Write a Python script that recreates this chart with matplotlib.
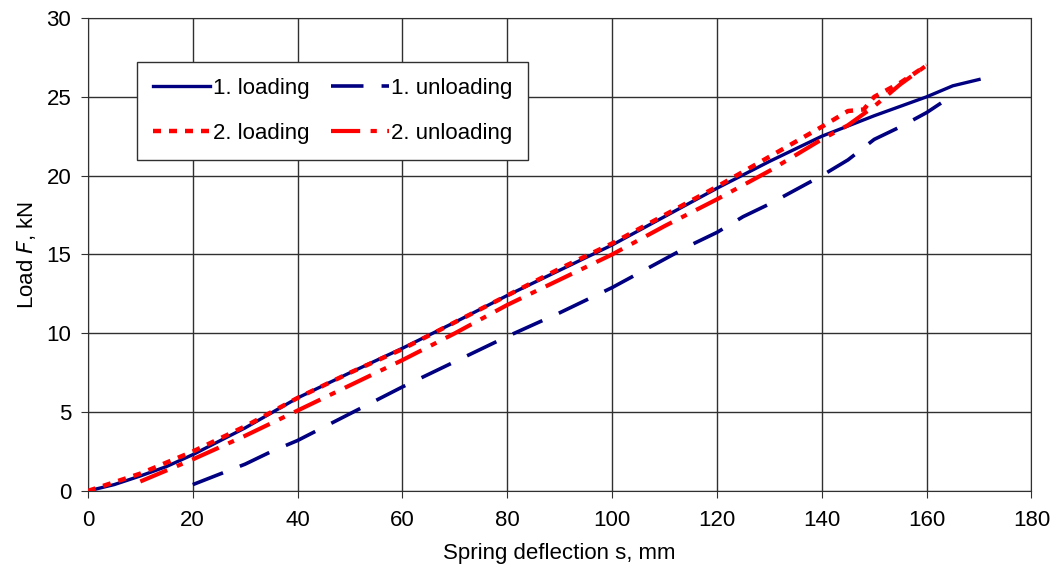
import matplotlib
matplotlib.use("Agg")
import matplotlib.pyplot as plt

plt.rcParams["font.family"] = ["Liberation Sans", "DejaVu Sans"]

# 1. loading
load1_s = [0, 5, 10, 15, 20, 30, 40, 50, 60, 70, 80, 90, 100, 110, 120, 130, 140, 150, 160, 165, 170]
load1_f = [0, 0.4, 0.95, 1.55, 2.3, 4.0, 5.9, 7.5, 9.05, 10.7, 12.4, 14.0, 15.6, 17.4, 19.2, 20.9, 22.5, 23.8, 25.0, 25.7, 26.1]
# 1. unloading
unload1_s = [20, 25, 30, 35, 40, 50, 60, 70, 80, 90, 100, 110, 115, 120, 125, 130, 135, 140, 145, 150, 155, 160, 165]
unload1_f = [0.4, 1.05, 1.7, 2.5, 3.2, 4.9, 6.6, 8.2, 9.8, 11.3, 12.9, 14.7, 15.6, 16.4, 17.4, 18.2, 19.1, 20.0, 21.0, 22.3, 23.1, 24.0, 25.1]
# 2. loading
load2_s = [0, 10, 20, 30, 40, 50, 60, 70, 80, 90, 100, 110, 120, 130, 140, 145, 148, 150, 155, 160]
load2_f = [0, 1.1, 2.5, 4.1, 5.9, 7.5, 9.0, 10.7, 12.4, 14.1, 15.7, 17.5, 19.3, 21.2, 23.1, 24.1, 24.2, 25.0, 25.9, 27.0]
# 2. unloading
unload2_s = [10, 15, 20, 30, 40, 50, 60, 70, 80, 90, 100, 110, 120, 130, 140, 145, 150, 155, 160]
unload2_f = [0.6, 1.3, 2.0, 3.5, 5.1, 6.7, 8.3, 10.0, 11.8, 13.4, 15.0, 16.8, 18.5, 20.3, 22.3, 23.2, 24.4, 25.8, 27.0]

fig = plt.figure(figsize=(10.59, 5.81), dpi=100)
ax = fig.add_axes([0.083, 0.155, 0.891, 0.814])

navy = "#000080"
red = "#ff0000"
l1, = ax.plot(load1_s, load1_f, color=navy, lw=2.4, zorder=4)
u1, = ax.plot(unload1_s, unload1_f, color=navy, lw=2.6, dashes=(9, 5), zorder=3)
l2, = ax.plot(load2_s, load2_f, color=red, lw=3.2, dashes=(1.8, 1.8), zorder=5)
u2, = ax.plot(unload2_s, unload2_f, color=red, lw=3, dashes=(7, 2.5, 1.5, 2.5), zorder=5)

ax.set_xlim(0, 180)
ax.set_ylim(0, 30)
ax.set_xticks(range(0, 181, 20))
ax.set_yticks(range(0, 31, 5))
ax.grid(True, color="#303030", lw=1)
ax.tick_params(labelsize=16, direction="out", length=5, color="#303030")
ax.tick_params(axis="x", pad=9)
ax.tick_params(axis="y", pad=7)
for sp in ax.spines.values():
    sp.set_color("#303030")
ax.set_xlabel("Spring deflection s, mm", fontsize=16, labelpad=8)
ax.set_ylabel("Load $\\it{F}$, kN", fontsize=16, labelpad=6)

leg = ax.legend([l1, l2, u1, u2], ["1. loading", "2. loading", "1. unloading", "2. unloading"],
                loc="upper left", bbox_to_anchor=(0.052, 0.907), ncol=2, fontsize=16,
                frameon=True, fancybox=False, edgecolor="#303030", framealpha=1,
                handlelength=2.6, handletextpad=0.1, columnspacing=1.0, labelspacing=1.1,
                borderpad=0.7, borderaxespad=0)
leg.get_frame().set_linewidth(1)

fig.savefig("out.png", dpi=100)
